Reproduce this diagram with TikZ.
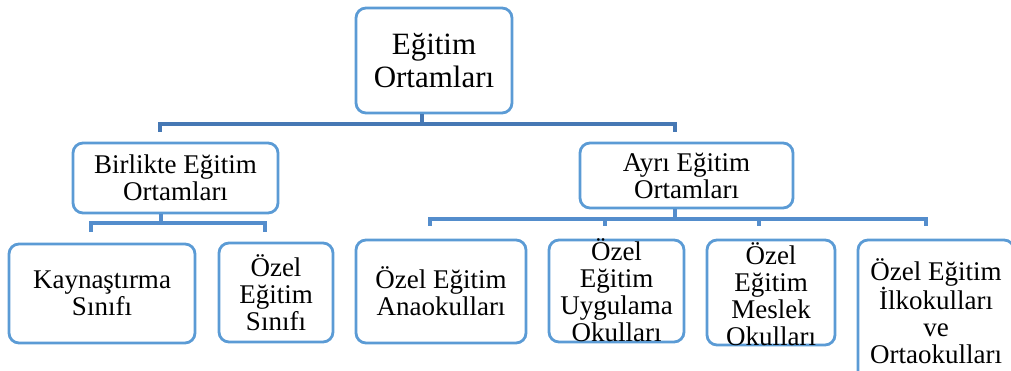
\documentclass[tikz,border=0pt]{standalone}
\usepackage{fontspec}
\setmainfont{Liberation Serif}
\definecolor{boxblue}{RGB}{91,155,213}
\definecolor{linetop}{RGB}{70,120,180}
\definecolor{linelow}{RGB}{84,141,204}
\begin{document}
\begin{tikzpicture}[x=1pt,y=-1pt,
  box/.style={draw=boxblue,line width=2.8pt,rounded corners=10pt,fill=white,inner sep=0pt},
  txt/.style={align=center,inner sep=0pt,font=\fontsize{27}{27}\selectfont},
  bigtxt/.style={align=center,inner sep=0pt,font=\fontsize{31}{33}\selectfont},
  conntop/.style={draw=linetop,line width=3.2pt},
  connlow/.style={draw=linelow,line width=3.2pt}]
\useasboundingbox (0,0) rectangle (1011,371);
\clip (0,0) rectangle (1011,371);
% boxes
\node[box,minimum width=156pt,minimum height=105pt] (top) at (434,60.5) {};
\node[bigtxt] (toptxt) at (top.center) {Eğitim\\Ortamları};
\node[box,minimum width=205pt,minimum height=70pt] (bir) at (175.5,178) {};
\node[txt] (birtxt) at (bir.center) {Birlikte Eğitim\\Ortamları};
\node[box,minimum width=213pt,minimum height=65pt] (ayr) at (686.5,175.5) {};
\node[txt] (ayrtxt) at (ayr.center) {Ayrı Eğitim\\Ortamları};
\node[box,minimum width=186pt,minimum height=99pt] (kay) at (102,293.5) {};
\node[txt] (kaytxt) at (kay.center) {Kaynaştırma\\Sınıfı};
\node[box,minimum width=114pt,minimum height=99pt] (ozs) at (276,292.5) {};
\node[txt] (ozstxt) at (ozs.center) {Özel\\Eğitim\\Sınıfı};
\node[box,minimum width=170pt,minimum height=103pt] (ana) at (441,291.5) {};
\node[txt] (anatxt) at (ana.center) {Özel Eğitim\\Anaokulları};
\node[box,minimum width=135pt,minimum height=102pt] (uyg) at (616.5,291) {};
\node[txt] (uygtxt) at ([yshift=1pt]uyg.center) {Özel\\Eğitim\\Uygulama\\Okulları};
\node[box,minimum width=128pt,minimum height=105pt] (mes) at (771,292.5) {};
\node[txt] (mestxt) at ([yshift=-2pt]mes.center) {Özel\\Eğitim\\Meslek\\Okulları};
\node[box,minimum width=156pt,minimum height=150pt] (ilk) at (936,315) {};
\node[txt] (ilktxt) at (936,311) {Özel Eğitim\\İlkokulları\\ve\\Ortaokulları};
% top level connectors
\coordinate (j0) at (422,124);
\coordinate (d1) at (160,132);
\coordinate (d2) at (675,132);
\draw[conntop] (j0 |- top.south) -- (j0);
\draw[conntop] (d1) -- (d1 |- j0) -- (d2 |- j0) -- (d2);
% left level
\coordinate (j1) at (161,223);
\coordinate (e1) at (91,232);
\coordinate (e2) at (265,232);
\draw[connlow] (j1 |- bir.south) -- (j1);
\draw[connlow] (e1) -- (e1 |- j1) -- (e2 |- j1) -- (e2);
% right level
\coordinate (j2) at (675,219);
\coordinate (f1) at (430,226);
\coordinate (f2) at (605,226);
\coordinate (f3) at (759,226);
\coordinate (f4) at (926,226);
\draw[connlow] (j2 |- ayr.south) -- (j2);
\draw[connlow] (f1) -- (f1 |- j2) -- (f4 |- j2) -- (f4);
\draw[connlow] (f2 |- j2) -- (f2);
\draw[connlow] (f3 |- j2) -- (f3);
\end{tikzpicture}
\end{document}
